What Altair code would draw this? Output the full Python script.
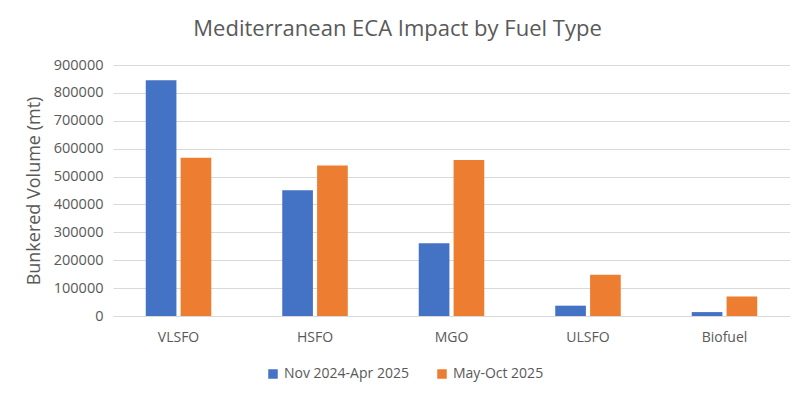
import altair as alt
import pandas as pd

categories = ["VLSFO", "HSFO", "MGO", "ULSFO", "Biofuel"]
series_names = ["Nov 2024-Apr 2025", "May-Oct 2025"]
nov_apr = [845000, 451000, 261000, 37000, 14000]
may_oct = [567000, 540000, 559000, 148000, 70000]
colors = ["#4472C4", "#ED7D31"]

rows = []
for c, a, b in zip(categories, nov_apr, may_oct):
    rows.append({"Fuel": c, "Period": series_names[0], "Volume": a})
    rows.append({"Fuel": c, "Period": series_names[1], "Volume": b})
df = pd.DataFrame(rows)

font = "Open Sans"
gray = "#595959"

chart = alt.Chart(df).mark_bar().encode(
    x=alt.X("Fuel:N", sort=categories, title=None,
            scale=alt.Scale(paddingInner=0.52, paddingOuter=0.24),
            axis=alt.Axis(labelAngle=0, labelFontSize=14, labelColor=gray, labelFont=font,
                          ticks=False, domainColor="#d9d9d9", labelPadding=14)),
    xOffset=alt.XOffset("Period:N", sort=series_names, scale=alt.Scale(paddingInner=0.12)),
    y=alt.Y("Volume:Q", title="Bunkered Volume (mt)",
            scale=alt.Scale(domain=[0, 900000]),
            axis=alt.Axis(values=list(range(0, 900001, 100000)), format="d",
                          labelFontSize=14.5, labelColor=gray, labelFont=font,
                          titleFontSize=18, titleColor=gray, titleFont=font, titleFontWeight="normal",
                          domain=False, ticks=False, gridColor="#d9d9d9", labelPadding=10,
                          titlePadding=10)),
    color=alt.Color("Period:N", sort=series_names,
                    scale=alt.Scale(domain=series_names, range=colors),
                    legend=alt.Legend(title=None, orient="none", direction="horizontal",
                                      legendX=153, legendY=302, symbolType="square",
                                      symbolSize=90, labelFontSize=14, labelColor=gray,
                                      labelFont=font, columnPadding=26, symbolStrokeWidth=0,
                                      labelOffset=4)),
).properties(
    width=677, height=251,
    title=alt.TitleParams("Mediterranean ECA Impact by Fuel Type", fontSize=22, color=gray,
                          font=font, fontWeight="normal", dx=-54, offset=16),
    autosize=alt.AutoSizeParams(type="none"),
    padding={"left": 105, "top": 57, "right": 0, "bottom": 76},
).configure_view(stroke=None)

chart.save("out.html", embed_options={"renderer": "svg", "actions": False})
